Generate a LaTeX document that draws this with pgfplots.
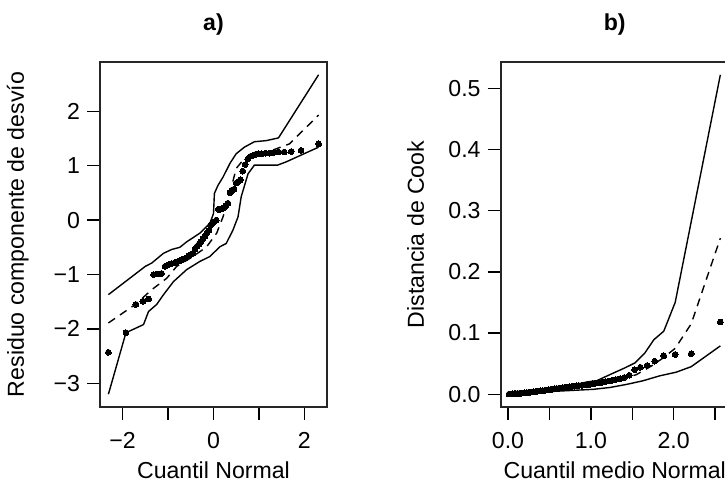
\documentclass[border=0pt]{standalone}
\usepackage{fontspec}
\setmainfont{Liberation Sans}
\usepackage{pgfplots}
\pgfplotsset{compat=1.18}

\pgfplotsset{
  rplot/.style={
    scale only axis,
    font=\fontsize{11.6}{13.9}\selectfont,
    axis line style={line width=0.9bp, black!85},
    tick style={line width=0.7bp, black},
    tick align=outside,
    major tick length=6.5bp,
    xtick pos=left, ytick pos=left,
    minor tick num=0,
    xticklabel style={yshift=-2.5bp},
    yticklabel style={anchor=east},
    title style={at={(axis description cs:0.5,1)}, anchor=base, yshift=9.8bp, font=\fontsize{11.6}{13.9}\selectfont\bfseries},
    xlabel style={at={(axis description cs:0.5,0)}, anchor=base, yshift=-35.7bp},
    ylabel style={anchor=base, rotate=0},
  },
  env/.style={black, line width=0.7bp, mark=none},
  med/.style={black, line width=0.7bp, mark=none, dash pattern=on 4bp off 3bp},
  pts/.style={only marks, mark=*, mark size=1.45bp, mark options={draw=black, fill=black, line width=0pt}},
}

\begin{document}
\begin{tikzpicture}

% ---- a) ----
\begin{axis}[rplot,
  at={(50bp,-203.5bp)}, anchor=south west,
  width=113.5bp, height=172.5bp,
  xmin=-2.498, xmax=2.498, ymin=-3.435, ymax=2.905,
  xtick={-2,-1,0,1,2}, xticklabels={−2,,0,,2},
  ytick={-3,-2,-1,0,1,2}, yticklabels={−3,−2,−1,0,1,2},
  title={a)},
  xlabel={Cuantil Normal},
  ylabel={Residuo componente de desvío},
  ylabel style={at={(axis description cs:-0.335,0.5)}},
]
\addplot[env] table {
-2.313 -1.37
-1.50 -0.85
-1.36 -0.79
-1.10 -0.61
-0.92 -0.54
-0.74 -0.50
-0.59 -0.40
-0.30 -0.24
-0.08 -0.06
0.00 0.12
0.02 0.49
0.10 0.64
0.21 0.79
0.36 1.04
0.50 1.22
0.68 1.34
0.90 1.44
1.16 1.46
1.43 1.51
2.313 2.67
};
\addplot[med] table {
-2.313 -1.89
-1.72 -1.55
-1.36 -1.28
-1.03 -1.07
-0.81 -0.85
-0.45 -0.67
-0.15 -0.49
0.07 -0.24
0.21 0.06
0.36 0.49
0.50 0.95
0.65 1.10
1.09 1.22
1.67 1.40
2.313 1.93
};
\addplot[env] table {
-2.313 -3.20
-1.927 -2.07
-1.54 -1.92
-1.43 -1.68
-1.25 -1.55
-1.10 -1.37
-0.88 -1.13
-0.59 -0.91
-0.30 -0.76
-0.08 -0.67
0.14 -0.49
0.28 -0.43
0.43 -0.18
0.54 0.06
0.61 0.43
0.76 0.85
0.90 1.01
1.41 1.01
1.60 1.07
2.313 1.34
};
\addplot[pts] table {
-2.313 -2.43
-1.927 -2.07
-1.711 -1.55
-1.554 -1.49
-1.428 -1.45
-1.320 -1.00
-1.227 -0.99
-1.143 -0.98
-1.066 -0.85
-0.995 -0.82
-0.930 -0.80
-0.867 -0.79
-0.808 -0.77
-0.752 -0.75
-0.698 -0.73
-0.645 -0.71
-0.595 -0.69
-0.546 -0.66
-0.498 -0.63
-0.452 -0.61
-0.406 -0.53
-0.361 -0.48
-0.317 -0.44
-0.274 -0.40
-0.231 -0.34
-0.189 -0.30
-0.147 -0.24
-0.104 -0.19
-0.062 -0.10
-0.021 -0.05
0.021 -0.03
0.062 0.00
0.104 0.20
0.147 0.20
0.189 0.21
0.231 0.23
0.274 0.26
0.317 0.31
0.361 0.50
0.406 0.54
0.452 0.57
0.498 0.68
0.546 0.71
0.595 0.74
0.645 0.90
0.698 1.02
0.752 1.12
0.808 1.17
0.867 1.19
0.930 1.21
0.995 1.22
1.066 1.22
1.143 1.23
1.227 1.23
1.320 1.24
1.428 1.25
1.554 1.25
1.711 1.26
1.927 1.28
2.313 1.40
};
\end{axis}

% ---- b) ----
\begin{axis}[rplot,
  at={(250.3bp,-203.5bp)}, anchor=south west,
  width=114.1bp, height=172.5bp,
  xmin=-0.089, xmax=2.665, ymin=-0.0209, ymax=0.5429,
  xtick={0,0.5,1,1.5,2,2.5}, xticklabels={0.0,,1.0,,2.0,},
  ytick={0,0.1,0.2,0.3,0.4,0.5}, yticklabels={0.0,0.1,0.2,0.3,0.4,0.5},
  title={b)},
  xlabel={Cuantil medio Normal},
  ylabel={Distancia de Cook},
  ylabel style={at={(axis description cs:-0.336,0.5)}},
]
\addplot[env] table {
0.013 0.0003
0.30 0.004
0.60 0.010
0.87 0.017
0.95 0.020
1.07 0.022
1.23 0.032
1.41 0.043
1.53 0.051
1.65 0.067
1.76 0.089
1.88 0.103
2.018 0.150
2.563 0.522
};
\addplot[med] table {
0.013 0.0002
0.30 0.0035
0.60 0.008
0.90 0.013
1.10 0.017
1.27 0.022
1.40 0.026
1.55 0.032
1.73 0.046
1.88 0.060
2.018 0.075
2.211 0.115
2.563 0.255
};
\addplot[env] table {
0.013 0.0000
0.30 0.003
0.60 0.005
1.03 0.008
1.23 0.011
1.43 0.016
1.63 0.022
1.83 0.030
2.03 0.036
2.211 0.045
2.563 0.079
};
\addplot[pts] table {
0.013 0.0002
0.034 0.0004
0.055 0.0006
0.075 0.0008
0.096 0.0010
0.117 0.0012
0.138 0.0014
0.159 0.0017
0.180 0.0020
0.202 0.0023
0.223 0.0026
0.244 0.0029
0.266 0.0032
0.287 0.0035
0.309 0.0039
0.331 0.0043
0.353 0.0047
0.376 0.0051
0.398 0.0055
0.421 0.0059
0.444 0.0063
0.467 0.0068
0.490 0.0072
0.514 0.0077
0.537 0.0082
0.562 0.0087
0.587 0.0092
0.612 0.0097
0.638 0.0102
0.664 0.0107
0.688 0.0112
0.717 0.0117
0.744 0.0122
0.772 0.0127
0.801 0.0132
0.830 0.0137
0.856 0.0142
0.890 0.0147
0.922 0.0152
0.954 0.0157
0.988 0.0163
1.022 0.0170
1.052 0.0177
1.095 0.0185
1.133 0.0193
1.173 0.0203
1.215 0.0215
1.259 0.0228
1.302 0.0240
1.352 0.0255
1.405 0.0275
1.465 0.0310
1.528 0.0400
1.598 0.0440
1.679 0.0470
1.770 0.0540
1.880 0.0630
2.018 0.0650
2.211 0.0660
2.563 0.1180
};
\end{axis}

\pgfresetboundingbox
\path[use as bounding box] (0,0) rectangle (362.5bp,-241bp);
\end{tikzpicture}
\end{document}
